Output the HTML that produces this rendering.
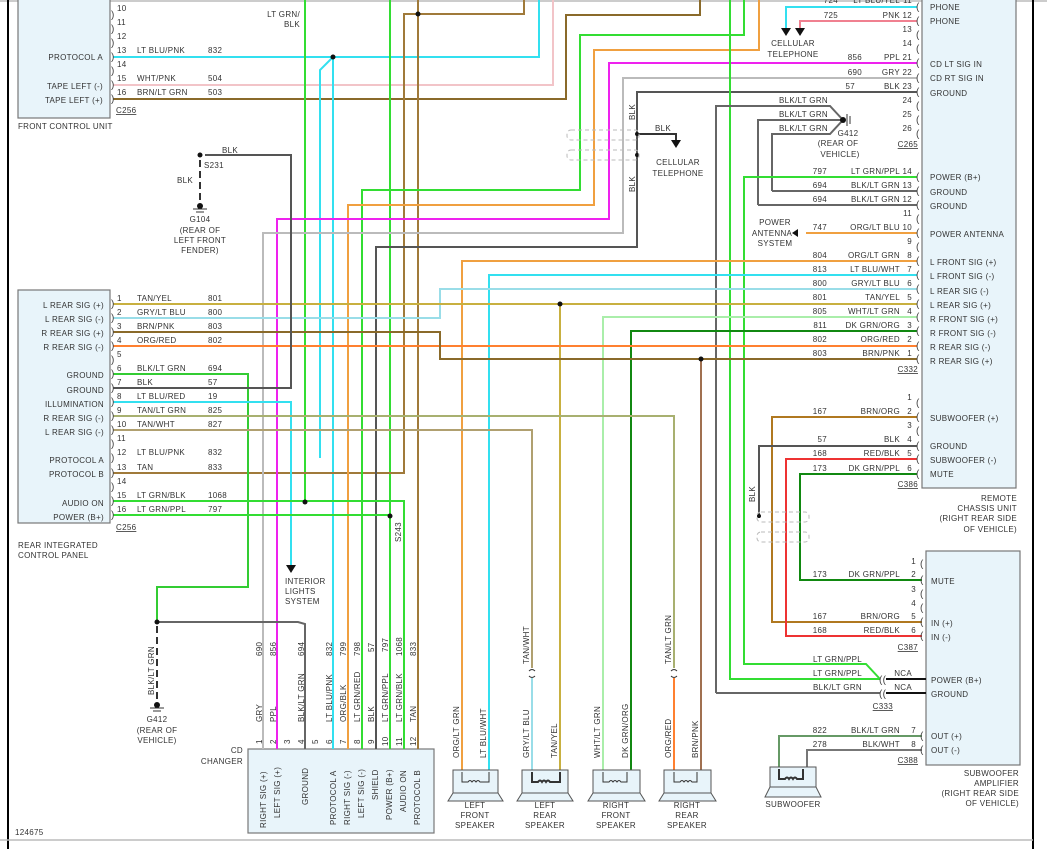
<!DOCTYPE html>
<html><head><meta charset="utf-8"><style>
html,body{margin:0;padding:0;background:#fff;}
svg{display:block;font-family:"Liberation Sans",sans-serif;}
text{font-size:8px;fill:#333;letter-spacing:0.3px}
.b{font-size:8.5px}
.p{font-size:10px;fill:#444}
</style></head><body>
<svg width="1047" height="849" viewBox="0 0 1047 849" xmlns="http://www.w3.org/2000/svg">
<rect width="1047" height="849" fill="#fff"/>
<line x1="0" y1="1" x2="1047" y2="1" stroke="#bbb" stroke-width="1.5"/>
<line x1="8" y1="0" x2="8" y2="849" stroke="#000" stroke-width="2"/>
<line x1="1033" y1="0" x2="1033" y2="849" stroke="#000" stroke-width="2"/>
<line x1="0" y1="840" x2="1033" y2="840" stroke="#bbb" stroke-width="1.5"/>

<!-- boxes -->
<rect x="18" y="-2" width="92" height="120" fill="#e8f4fa" stroke="#777" stroke-width="1.2"/>
<rect x="18" y="290" width="92" height="233" fill="#e8f4fa" stroke="#777" stroke-width="1.2"/>
<rect x="922" y="-2" width="94" height="490" fill="#e8f4fa" stroke="#777" stroke-width="1.2"/>
<rect x="926" y="551" width="94" height="214" fill="#e8f4fa" stroke="#777" stroke-width="1.2"/>
<rect x="248" y="749" width="186" height="84" fill="#e8f4fa" stroke="#777" stroke-width="1.2"/>

<g fill="none" stroke-width="2">
<!-- front control unit wires -->
<polyline points="113,57 539,57 539,0" stroke="#33e0f0"/>
<polyline points="113,85 553,85 553,0" stroke="#f2c4c8"/>
<polyline points="113,99 566,99 566,15 700,15 700,0" stroke="#8a6a2a"/>
<polyline points="320,458 320,70 333,57" stroke="#33e0f0"/>
<polyline points="333,57 333,749" stroke="#33e0f0"/>
<!-- top feeds -->
<polyline points="305,0 305,502" stroke="#33dd33"/>
<polyline points="390,0 390,749" stroke="#33dd33"/>
<polyline points="418,0 418,749" stroke="#a07a3a"/>
<polyline points="113,473 404,473 404,14 524,14 524,0" stroke="#a07a3a"/>
<polyline points="362,749 362,190 580,190 580,35 744,35 744,0" stroke="#33dd33"/>
<polyline points="348,749 348,205 594,205 594,50 759,50 759,0" stroke="#f0a040"/>
<polyline points="277,749 277,219 609,219 609,63 917,63" stroke="#ee22ee"/>
<polyline points="263,749 263,233 623,233 623,78 917,78" stroke="#bbbbbb"/>
<polyline points="376,749 376,247 637,247 637,92 917,92" stroke="#555"/>
<polyline points="730,0 730,679 880,679" stroke="#33dd33"/>
<!-- C265 mid -->
<polyline points="716,693 716,106 830,106 843,120" stroke="#666"/>
<polyline points="758,205 758,120 843,120" stroke="#666"/>
<polyline points="772,191 772,134 830,134 843,120" stroke="#666"/>
<polyline points="917,205 758,205" stroke="#666"/>
<polyline points="917,191 772,191" stroke="#666"/>
<polyline points="917,177 744,177 744,664 866,664 880,679" stroke="#33dd33"/>
<polyline points="917,233 806,233" stroke="#f0a040"/>
<polyline points="917,7 786,7 786,28" stroke="#33e0f0"/>
<polyline points="917,21 800,21 800,28" stroke="#f08090"/>
<polyline points="637,134 676,134 676,140" stroke="#333"/>
<!-- C332 -->
<polyline points="917,261 462,261 462,770" stroke="#f0a040"/>
<polyline points="917,275 489,275 489,770" stroke="#33e0f0"/>
<polyline points="113,318 440,318 440,289 917,289" stroke="#99dde8"/>
<polyline points="113,304 917,304" stroke="#c8b040"/>
<polyline points="560,304 560,770" stroke="#c8b040"/>
<polyline points="917,317 603,317 603,770" stroke="#aaeeaa"/>
<polyline points="917,331 631,331 631,770" stroke="#118811"/>
<polyline points="113,346 917,346" stroke="#ff8030"/>
<polyline points="113,332 440,332 440,359 917,359" stroke="#8a6a2a"/>
<polyline points="701,359 701,770" stroke="#a07050"/>
<!-- RICP others -->
<polyline points="113,374 248,374 248,587 157,587 157,622" stroke="#33cc33"/>
<polyline points="157,622 298,622 305,624 305,749" stroke="#666"/>
<polyline points="113,388 291,388 291,155 205,155" stroke="#555"/>
<polyline points="113,402 291,402 291,565" stroke="#33e0f0"/>
<polyline points="113,416 674,416 674,668" stroke="#a8b070"/>
<polyline points="674,678 674,770" stroke="#ff8030"/>
<polyline points="113,430 532,430 532,668" stroke="#b0a070"/>
<polyline points="532,678 532,770" stroke="#99dde8"/>
<polyline points="113,501 404,501 404,749" stroke="#33dd33"/>
<polyline points="113,515 390,515" stroke="#33dd33"/>
<!-- C386/C387 -->
<polyline points="917,417 772,417 772,622 922,622" stroke="#b07820"/>
<polyline points="917,446 759,446 759,518" stroke="#555"/>
<polyline points="917,459 786,459 786,636 922,636" stroke="#ee3333"/>
<polyline points="917,474 800,474 800,580 922,580" stroke="#118811"/>
<polyline points="716,693 880,693" stroke="#666"/>
<polyline points="886,679 926,679" stroke="#111"/>
<polyline points="886,693 926,693" stroke="#111"/>
<polyline points="922,736 779,736 779,770" stroke="#669966"/>
<polyline points="922,750 807,750 807,770" stroke="#777"/>
</g>
<!-- dashed grounds -->
<line x1="200" y1="160" x2="200" y2="205" stroke="#333" stroke-width="2" stroke-dasharray="7,4"/>
<line x1="157" y1="626" x2="157" y2="703" stroke="#333" stroke-width="2" stroke-dasharray="7,4"/>
<g fill="#111">
<circle cx="200" cy="155" r="2.5"/><circle cx="200" cy="206" r="3"/><circle cx="157" cy="622" r="2.5"/><circle cx="157" cy="705" r="3"/>
<circle cx="333" cy="57" r="2.5"/><circle cx="418" cy="14" r="2.5"/><circle cx="305" cy="502" r="2.5"/><circle cx="390" cy="516" r="2.5"/>
<circle cx="560" cy="304" r="2.5"/><circle cx="701" cy="359" r="2.5"/><circle cx="637" cy="134" r="2"/><circle cx="637" cy="155" r="2"/>
<circle cx="843" cy="120" r="3"/><circle cx="759" cy="516" r="2"/>
<polygon points="781,28 791,28 786,36"/><polygon points="795,28 805,28 800,36"/><polygon points="671,140 681,140 676,148"/>
<polygon points="798,229 798,237 792,233"/><polygon points="286,565 296,565 291,573"/>
</g>
<g stroke="#333" stroke-width="1"><line x1="193" y1="209" x2="207" y2="209"/><line x1="196" y1="212" x2="204" y2="212"/><line x1="150" y1="708" x2="164" y2="708"/><line x1="153" y1="711" x2="161" y2="711"/><line x1="847" y1="114" x2="847" y2="126"/><line x1="850" y1="116" x2="850" y2="124"/></g>
<!-- shields -->
<g fill="none" stroke="#bbb" stroke-dasharray="4,3"><rect x="567" y="130" width="72" height="10" rx="4"/><rect x="567" y="150" width="72" height="10" rx="4"/><rect x="757" y="512" width="52" height="10" rx="4"/><rect x="757" y="532" width="52" height="10" rx="4"/></g>
<!-- C333 connectors -->
<text x="879" y="683" class="p">((</text><text x="879" y="697" class="p">((</text>

<!-- pin glyphs -->
<g class="p">
<text x="111" y="18" class="p">)</text><text x="111" y="32" class="p">)</text><text x="111" y="46" class="p">)</text><text x="111" y="60" class="p">)</text><text x="111" y="74" class="p">)</text><text x="111" y="88" class="p">)</text><text x="111" y="102" class="p">)</text>
</g>
<g>
<text x="111" y="307" class="p">)</text><text x="111" y="321" class="p">)</text><text x="111" y="335" class="p">)</text><text x="111" y="349" class="p">)</text><text x="111" y="363" class="p">)</text><text x="111" y="377" class="p">)</text><text x="111" y="391" class="p">)</text><text x="111" y="405" class="p">)</text><text x="111" y="419" class="p">)</text><text x="111" y="433" class="p">)</text><text x="111" y="447" class="p">)</text><text x="111" y="461" class="p">)</text><text x="111" y="476" class="p">)</text><text x="111" y="490" class="p">)</text><text x="111" y="504" class="p">)</text><text x="111" y="518" class="p">)</text>
</g>
<g>
<text x="916" y="10" class="p">(</text><text x="916" y="24" class="p">(</text><text x="916" y="38" class="p">(</text><text x="916" y="52" class="p">(</text><text x="916" y="66" class="p">(</text><text x="916" y="81" class="p">(</text><text x="916" y="95" class="p">(</text><text x="916" y="109" class="p">(</text><text x="916" y="123" class="p">(</text><text x="916" y="137" class="p">(</text>
<text x="916" y="180" class="p">(</text><text x="916" y="194" class="p">(</text><text x="916" y="208" class="p">(</text><text x="916" y="222" class="p">(</text><text x="916" y="236" class="p">(</text><text x="916" y="250" class="p">(</text><text x="916" y="264" class="p">(</text><text x="916" y="278" class="p">(</text><text x="916" y="292" class="p">(</text><text x="916" y="307" class="p">(</text><text x="916" y="320" class="p">(</text><text x="916" y="334" class="p">(</text><text x="916" y="349" class="p">(</text><text x="916" y="362" class="p">(</text>
<text x="916" y="406" class="p">(</text><text x="916" y="420" class="p">(</text><text x="916" y="434" class="p">(</text><text x="916" y="449" class="p">(</text><text x="916" y="462" class="p">(</text><text x="916" y="477" class="p">(</text>
<text x="920" y="567" class="p">(</text><text x="920" y="583" class="p">(</text><text x="920" y="597" class="p">(</text><text x="920" y="611" class="p">(</text><text x="920" y="625" class="p">(</text><text x="920" y="639" class="p">(</text><text x="920" y="739" class="p">(</text><text x="920" y="753" class="p">(</text>
</g>

<!-- front control unit text -->
<g>
<text x="117" y="11">10</text><text x="117" y="25">11</text><text x="117" y="39">12</text><text x="117" y="53">13</text><text x="117" y="67">14</text><text x="117" y="81">15</text><text x="117" y="95">16</text>
<text x="137" y="53">LT BLU/PNK</text><text x="208" y="53">832</text><text x="137" y="81">WHT/PNK</text><text x="208" y="81">504</text><text x="137" y="95">BRN/LT GRN</text><text x="208" y="95">503</text>
<text x="103" y="60" text-anchor="end">PROTOCOL A</text><text x="103" y="89" text-anchor="end">TAPE LEFT (-)</text><text x="103" y="103" text-anchor="end">TAPE LEFT (+)</text>
<text x="116" y="113" text-decoration="underline">C256</text><text x="18" y="129">FRONT CONTROL UNIT</text>
<text x="300" y="17" text-anchor="end">LT GRN/</text><text x="300" y="27" text-anchor="end">BLK</text>
<text x="222" y="153">BLK</text><text x="204" y="168">S231</text><text x="177" y="183">BLK</text>
<text x="200" y="222" text-anchor="middle">G104</text><text x="200" y="233" text-anchor="middle">(REAR OF</text><text x="200" y="243" text-anchor="middle">LEFT FRONT</text><text x="200" y="253" text-anchor="middle">FENDER)</text>
</g>
<!-- RICP text -->
<g>
<text x="117" y="301">1</text><text x="117" y="315">2</text><text x="117" y="329">3</text><text x="117" y="343">4</text><text x="117" y="357">5</text><text x="117" y="371">6</text><text x="117" y="385">7</text><text x="117" y="399">8</text><text x="117" y="413">9</text><text x="117" y="427">10</text><text x="117" y="441">11</text><text x="117" y="455">12</text><text x="117" y="470">13</text><text x="117" y="484">14</text><text x="117" y="498">15</text><text x="117" y="512">16</text>
<text x="137" y="301">TAN/YEL</text><text x="208" y="301">801</text>
<text x="137" y="315">GRY/LT BLU</text><text x="208" y="315">800</text>
<text x="137" y="329">BRN/PNK</text><text x="208" y="329">803</text>
<text x="137" y="343">ORG/RED</text><text x="208" y="343">802</text>
<text x="137" y="371">BLK/LT GRN</text><text x="208" y="371">694</text>
<text x="137" y="385">BLK</text><text x="208" y="385">57</text>
<text x="137" y="399">LT BLU/RED</text><text x="208" y="399">19</text>
<text x="137" y="413">TAN/LT GRN</text><text x="208" y="413">825</text>
<text x="137" y="427">TAN/WHT</text><text x="208" y="427">827</text>
<text x="137" y="455">LT BLU/PNK</text><text x="208" y="455">832</text>
<text x="137" y="470">TAN</text><text x="208" y="470">833</text>
<text x="137" y="498">LT GRN/BLK</text><text x="208" y="498">1068</text>
<text x="137" y="512">LT GRN/PPL</text><text x="208" y="512">797</text>
<text x="104" y="308" text-anchor="end">L REAR SIG (+)</text><text x="104" y="322" text-anchor="end">L REAR SIG (-)</text><text x="104" y="336" text-anchor="end">R REAR SIG (+)</text><text x="104" y="350" text-anchor="end">R REAR SIG (-)</text>
<text x="104" y="378" text-anchor="end">GROUND</text><text x="104" y="393" text-anchor="end">GROUND</text><text x="104" y="407" text-anchor="end">ILLUMINATION</text><text x="104" y="421" text-anchor="end">R REAR SIG (-)</text><text x="104" y="435" text-anchor="end">L REAR SIG (-)</text>
<text x="104" y="463" text-anchor="end">PROTOCOL A</text><text x="104" y="477" text-anchor="end">PROTOCOL B</text><text x="104" y="506" text-anchor="end">AUDIO ON</text><text x="104" y="520" text-anchor="end">POWER (B+)</text>
<text x="116" y="530" text-decoration="underline">C256</text>
<text x="18" y="548">REAR INTEGRATED</text><text x="18" y="558">CONTROL PANEL</text>
<text x="285" y="584">INTERIOR</text><text x="285" y="594">LIGHTS</text><text x="285" y="604">SYSTEM</text>
<text transform="translate(401,542) rotate(-90)">S243</text>
<text transform="translate(154,695) rotate(-90)">BLK/LT GRN</text>
<text x="157" y="722" text-anchor="middle">G412</text><text x="157" y="733" text-anchor="middle">(REAR OF</text><text x="157" y="743" text-anchor="middle">VEHICLE)</text>
<text x="243" y="753" text-anchor="end">CD</text><text x="243" y="764" text-anchor="end">CHANGER</text>
<text x="15" y="835">124675</text>
</g>
<!-- CD changer vertical labels -->
<g>
<text transform="translate(262,656) rotate(-90)">690</text><text transform="translate(276,656) rotate(-90)">856</text><text transform="translate(304,656) rotate(-90)">694</text><text transform="translate(332,656) rotate(-90)">832</text><text transform="translate(346,656) rotate(-90)">799</text><text transform="translate(360,656) rotate(-90)">798</text><text transform="translate(374,652) rotate(-90)">57</text><text transform="translate(388,652) rotate(-90)">797</text><text transform="translate(402,656) rotate(-90)">1068</text><text transform="translate(416,656) rotate(-90)">833</text>
<text transform="translate(262,722) rotate(-90)">GRY</text><text transform="translate(276,722) rotate(-90)">PPL</text><text transform="translate(304,722) rotate(-90)">BLK/LT GRN</text><text transform="translate(332,722) rotate(-90)">LT BLU/PNK</text><text transform="translate(346,722) rotate(-90)">ORG/BLK</text><text transform="translate(360,722) rotate(-90)">LT GRN/RED</text><text transform="translate(374,722) rotate(-90)">BLK</text><text transform="translate(388,722) rotate(-90)">LT GRN/PPL</text><text transform="translate(402,722) rotate(-90)">LT GRN/BLK</text><text transform="translate(416,722) rotate(-90)">TAN</text>
<text transform="translate(262,744) rotate(-90)">1</text><text transform="translate(276,744) rotate(-90)">2</text><text transform="translate(290,744) rotate(-90)">3</text><text transform="translate(304,744) rotate(-90)">4</text><text transform="translate(318,744) rotate(-90)">5</text><text transform="translate(332,744) rotate(-90)">6</text><text transform="translate(346,744) rotate(-90)">7</text><text transform="translate(360,744) rotate(-90)">8</text><text transform="translate(374,744) rotate(-90)">9</text><text transform="translate(388,746) rotate(-90)">10</text><text transform="translate(402,746) rotate(-90)">11</text><text transform="translate(416,746) rotate(-90)">12</text>
<text transform="translate(266,828) rotate(-90)">RIGHT SIG (+)</text><text transform="translate(280,818) rotate(-90)">LEFT SIG (+)</text><text transform="translate(308,805) rotate(-90)">GROUND</text><text transform="translate(336,825) rotate(-90)">PROTOCOL A</text><text transform="translate(350,825) rotate(-90)">RIGHT SIG (-)</text><text transform="translate(364,818) rotate(-90)">LEFT SIG (-)</text><text transform="translate(378,800) rotate(-90)">SHIELD</text><text transform="translate(392,820) rotate(-90)">POWER (B+)</text><text transform="translate(406,812) rotate(-90)">AUDIO ON</text><text transform="translate(420,825) rotate(-90)">PROTOCOL B</text>
</g>
<!-- speakers -->
<g fill="#e8f4fa" stroke="#555" stroke-width="1">
<rect x="453" y="770" width="45" height="23"/><polygon points="453,793 498,793 503,801 448,801"/>
<rect x="522" y="770" width="46" height="23"/><polygon points="522,793 568,793 573,801 517,801"/>
<rect x="593" y="770" width="47" height="23"/><polygon points="593,793 640,793 645,801 588,801"/>
<rect x="664" y="770" width="47" height="23"/><polygon points="664,793 711,793 716,801 659,801"/>
<rect x="770" y="767" width="46" height="20"/><polygon points="770,787 816,787 821,797 765,797"/>
</g>
<g fill="none" stroke="#333" stroke-width="1">
<path d="M462,772 v10 h6 q2,-3 4,0 q2,-3 4,0 q2,-3 4,0 h9 v-10"/>
<path d="M532,772 v10 h6 q2,-3 4,0 q2,-3 4,0 q2,-3 4,0 h10 v-10" stroke-width="2"/>
<path d="M603,772 v10 h6 q2,-3 4,0 q2,-3 4,0 q2,-3 4,0 h6 v-10"/>
<path d="M674,772 v10 h6 q2,-3 4,0 q2,-3 4,0 q2,-3 4,0 h5 v-10"/>
<path d="M779,769 v10 h6 q2,-3 4,0 q2,-3 4,0 q2,-3 4,0 h6 v-10" stroke-width="2"/>
<path d="M529,671 q3,-3 6,0 M529,676 q3,3 6,0 M671,671 q3,-3 6,0 M671,676 q3,3 6,0"/>
</g>
<g text-anchor="middle">
<text transform="translate(459,758) rotate(-90)" text-anchor="start">ORG/LT GRN</text><text transform="translate(486,758) rotate(-90)" text-anchor="start">LT BLU/WHT</text>
<text transform="translate(529,664) rotate(-90)" text-anchor="start">TAN/WHT</text><text transform="translate(529,758) rotate(-90)" text-anchor="start">GRY/LT BLU</text><text transform="translate(557,758) rotate(-90)" text-anchor="start">TAN/YEL</text>
<text transform="translate(600,758) rotate(-90)" text-anchor="start">WHT/LT GRN</text><text transform="translate(628,758) rotate(-90)" text-anchor="start">DK GRN/ORG</text>
<text transform="translate(671,664) rotate(-90)" text-anchor="start">TAN/LT GRN</text><text transform="translate(671,758) rotate(-90)" text-anchor="start">ORG/RED</text><text transform="translate(698,758) rotate(-90)" text-anchor="start">BRN/PNK</text>
<text x="475" y="808">LEFT</text><text x="475" y="818">FRONT</text><text x="475" y="828">SPEAKER</text>
<text x="545" y="808">LEFT</text><text x="545" y="818">REAR</text><text x="545" y="828">SPEAKER</text>
<text x="616" y="808">RIGHT</text><text x="616" y="818">FRONT</text><text x="616" y="828">SPEAKER</text>
<text x="687" y="808">RIGHT</text><text x="687" y="818">REAR</text><text x="687" y="828">SPEAKER</text>
<text x="793" y="807">SUBWOOFER</text>
<text x="793" y="46">CELLULAR</text><text x="793" y="57">TELEPHONE</text>
<text x="678" y="165">CELLULAR</text><text x="678" y="176">TELEPHONE</text>
<text x="775" y="225">POWER</text><text x="772" y="236">ANTENNA</text><text x="775" y="246">SYSTEM</text>
<text x="848" y="136">G412</text><text x="838" y="146">(REAR OF</text><text x="840" y="157">VEHICLE)</text>
</g>
<text x="655" y="131">BLK</text>
<text transform="translate(635,120) rotate(-90)">BLK</text><text transform="translate(635,192) rotate(-90)">BLK</text>
<text transform="translate(755,502) rotate(-90)">BLK</text>
<!-- C265 / C332 / C386 labels -->
<g text-anchor="end">
<text x="900" y="3">LT BLU/YEL</text><text x="838" y="3">724</text><text x="912" y="3">11</text>
<text x="900" y="18">PNK</text><text x="838" y="18">725</text><text x="912" y="18">12</text>
<text x="912" y="32">13</text><text x="912" y="46">14</text>
<text x="900" y="60">PPL</text><text x="862" y="60">856</text><text x="912" y="60">21</text>
<text x="900" y="75">GRY</text><text x="862" y="75">690</text><text x="912" y="75">22</text>
<text x="900" y="89">BLK</text><text x="855" y="89">57</text><text x="912" y="89">23</text>
<text x="828" y="103">BLK/LT GRN</text><text x="912" y="103">24</text>
<text x="828" y="117">BLK/LT GRN</text><text x="912" y="117">25</text>
<text x="828" y="131">BLK/LT GRN</text><text x="912" y="131">26</text>
<text x="918" y="147" text-decoration="underline">C265</text>
<text x="900" y="174">LT GRN/PPL</text><text x="827" y="174">797</text><text x="912" y="174">14</text>
<text x="900" y="188">BLK/LT GRN</text><text x="827" y="188">694</text><text x="912" y="188">13</text>
<text x="900" y="202">BLK/LT GRN</text><text x="827" y="202">694</text><text x="912" y="202">12</text>
<text x="912" y="216">11</text>
<text x="900" y="230">ORG/LT BLU</text><text x="827" y="230">747</text><text x="912" y="230">10</text>
<text x="912" y="244">9</text>
<text x="900" y="258">ORG/LT GRN</text><text x="827" y="258">804</text><text x="912" y="258">8</text>
<text x="900" y="272">LT BLU/WHT</text><text x="827" y="272">813</text><text x="912" y="272">7</text>
<text x="900" y="286">GRY/LT BLU</text><text x="827" y="286">800</text><text x="912" y="286">6</text>
<text x="900" y="300">TAN/YEL</text><text x="827" y="300">801</text><text x="912" y="300">5</text>
<text x="900" y="314">WHT/LT GRN</text><text x="827" y="314">805</text><text x="912" y="314">4</text>
<text x="900" y="328">DK GRN/ORG</text><text x="827" y="328">811</text><text x="912" y="328">3</text>
<text x="900" y="342">ORG/RED</text><text x="827" y="342">802</text><text x="912" y="342">2</text>
<text x="900" y="356">BRN/PNK</text><text x="827" y="356">803</text><text x="912" y="356">1</text>
<text x="918" y="372" text-decoration="underline">C332</text>
<text x="912" y="400">1</text>
<text x="900" y="414">BRN/ORG</text><text x="827" y="414">167</text><text x="912" y="414">2</text>
<text x="912" y="428">3</text>
<text x="900" y="442">BLK</text><text x="827" y="442">57</text><text x="912" y="442">4</text>
<text x="900" y="456">RED/BLK</text><text x="827" y="456">168</text><text x="912" y="456">5</text>
<text x="900" y="471">DK GRN/PPL</text><text x="827" y="471">173</text><text x="912" y="471">6</text>
<text x="918" y="487" text-decoration="underline">C386</text>
<text x="1017" y="501">REMOTE</text><text x="1017" y="511">CHASSIS UNIT</text><text x="1017" y="521">(RIGHT REAR SIDE</text><text x="1017" y="532">OF VEHICLE)</text>
<text x="916" y="564">1</text>
<text x="900" y="577">DK GRN/PPL</text><text x="827" y="577">173</text><text x="916" y="577">2</text>
<text x="916" y="592">3</text><text x="916" y="606">4</text>
<text x="900" y="619">BRN/ORG</text><text x="827" y="619">167</text><text x="916" y="619">5</text>
<text x="900" y="633">RED/BLK</text><text x="827" y="633">168</text><text x="916" y="633">6</text>
<text x="918" y="650" text-decoration="underline">C387</text>
<text x="862" y="662">LT GRN/PPL</text><text x="862" y="676">LT GRN/PPL</text><text x="862" y="690">BLK/LT GRN</text>
<text x="912" y="676">NCA</text><text x="912" y="690">NCA</text>
<text x="893" y="709" text-decoration="underline">C333</text>
<text x="900" y="733">BLK/LT GRN</text><text x="827" y="733">822</text><text x="916" y="733">7</text>
<text x="900" y="747">BLK/WHT</text><text x="827" y="747">278</text><text x="916" y="747">8</text>
<text x="918" y="763" text-decoration="underline">C388</text>
<text x="1019" y="776">SUBWOOFER</text><text x="1019" y="786">AMPLIFIER</text><text x="1019" y="796">(RIGHT REAR SIDE</text><text x="1019" y="806">OF VEHICLE)</text>
</g>
<g>
<text x="930" y="10">PHONE</text><text x="930" y="24">PHONE</text>
<text x="930" y="67">CD LT SIG IN</text><text x="930" y="81">CD RT SIG IN</text><text x="930" y="96">GROUND</text>
<text x="930" y="180">POWER (B+)</text><text x="930" y="195">GROUND</text><text x="930" y="209">GROUND</text><text x="930" y="237">POWER ANTENNA</text>
<text x="930" y="265">L FRONT SIG (+)</text><text x="930" y="279">L FRONT SIG (-)</text><text x="930" y="294">L REAR SIG (-)</text><text x="930" y="308">L REAR SIG (+)</text><text x="930" y="322">R FRONT SIG (+)</text><text x="930" y="336">R FRONT SIG (-)</text><text x="930" y="350">R REAR SIG (-)</text><text x="930" y="364">R REAR SIG (+)</text>
<text x="930" y="421">SUBWOOFER (+)</text><text x="930" y="449">GROUND</text><text x="930" y="463">SUBWOOFER (-)</text><text x="930" y="477">MUTE</text>
<text x="931" y="584">MUTE</text><text x="931" y="626">IN (+)</text><text x="931" y="640">IN (-)</text><text x="931" y="683">POWER (B+)</text><text x="931" y="697">GROUND</text><text x="931" y="739">OUT (+)</text><text x="931" y="753">OUT (-)</text>
</g>
</svg>
</body></html>
